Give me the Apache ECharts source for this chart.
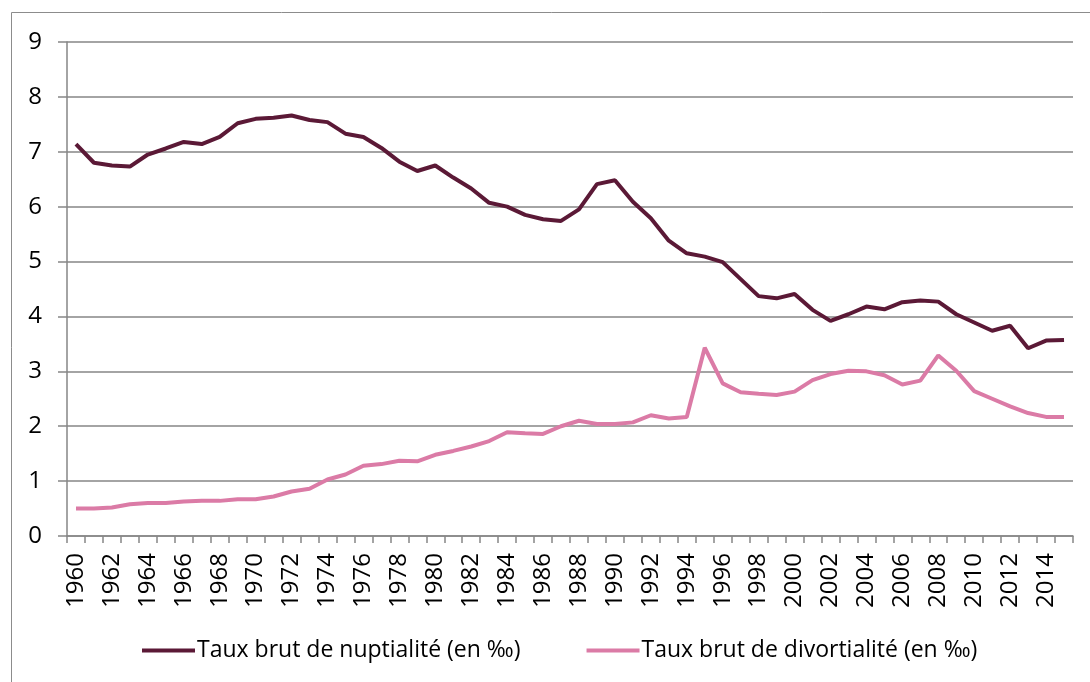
<!DOCTYPE html>
<html><head><meta charset="utf-8">
<script src="https://cdn.jsdelivr.net/npm/echarts@6/dist/echarts.min.js"></script>
<style>html,body{margin:0;padding:0;background:#fff}#c{width:1090px;height:682px}</style>
</head><body><div id="c"></div>
<script>
const years = [];
for (let y = 1960; y <= 2015; y++) years.push(String(y));
const nuptialite = [7.14,6.80,6.75,6.73,6.95,7.06,7.18,7.14,7.27,7.52,7.60,7.62,7.66,7.58,7.54,7.33,7.27,7.07,6.82,6.65,6.75,6.53,6.33,6.07,6.00,5.85,5.77,5.74,5.95,6.41,6.48,6.09,5.79,5.38,5.15,5.09,4.99,4.68,4.37,4.33,4.41,4.12,3.92,4.04,4.18,4.13,4.26,4.29,4.27,4.04,3.89,3.74,3.83,3.42,3.56,3.57];
const divortialite = [0.50,0.50,0.52,0.58,0.60,0.60,0.63,0.64,0.64,0.67,0.67,0.72,0.81,0.86,1.03,1.12,1.28,1.31,1.37,1.36,1.48,1.55,1.63,1.73,1.89,1.87,1.86,2.00,2.10,2.04,2.04,2.07,2.20,2.14,2.17,3.43,2.78,2.62,2.59,2.57,2.63,2.84,2.95,3.01,3.00,2.93,2.76,2.83,3.29,3.01,2.64,2.50,2.36,2.24,2.17,2.17];
const seriesNames = ['Taux brut de nuptialité (en ‰)', 'Taux brut de divortialité (en ‰)'];
const colors = ['#5B1936', '#DB7BA6'];
const font = "'Open Sans', sans-serif";

const chart = echarts.init(document.getElementById('c'), null, {renderer: 'canvas'});
chart.setOption({
  animation: false,
  backgroundColor: '#fff',
  graphic: [{
    type: 'rect', silent: true, z: -1,
    shape: {x: 11.5, y: 12.5, width: 1100, height: 700},
    style: {fill: 'none', stroke: '#8c8c8c', lineWidth: 1}
  }],
  grid: {left: 67, right: 17, top: 42, bottom: 146, containLabel: false},
  legend: {
    left: 137, top: 634,
    itemWidth: 53, itemHeight: 4, itemGap: 66,
    icon: 'rect',
    textStyle: {fontFamily: font, fontSize: 23, color: '#000', padding: [0,0,0,-3]},
    data: seriesNames
  },
  xAxis: {
    type: 'category', data: years, boundaryGap: true,
    axisLine: {lineStyle: {color: '#868686', width: 1.5}},
    axisTick: {show: true, interval: 0, length: 7, lineStyle: {color: '#868686', width: 1.5}},
    axisLabel: {interval: 1, rotate: 90, margin: 17, fontFamily: font, fontSize: 24, color: '#000'},
    splitLine: {show: false}
  },
  yAxis: {
    type: 'value', min: 0, max: 9, interval: 1,
    axisLine: {show: true, lineStyle: {color: '#868686', width: 1.5}},
    axisTick: {show: true, length: 9, lineStyle: {color: '#868686', width: 1.5}},
    axisLabel: {margin: 25, fontFamily: font, fontSize: 24, color: '#000'},
    splitLine: {lineStyle: {color: '#868686', width: 1.5}}
  },
  series: [
    {name: seriesNames[0], type: 'line', data: nuptialite, showSymbol: false, symbol: 'none',
     lineStyle: {color: colors[0], width: 4}, itemStyle: {color: colors[0]}},
    {name: seriesNames[1], type: 'line', data: divortialite, showSymbol: false, symbol: 'none',
     lineStyle: {color: colors[1], width: 4}, itemStyle: {color: colors[1]}}
  ]
});
</script></body></html>
